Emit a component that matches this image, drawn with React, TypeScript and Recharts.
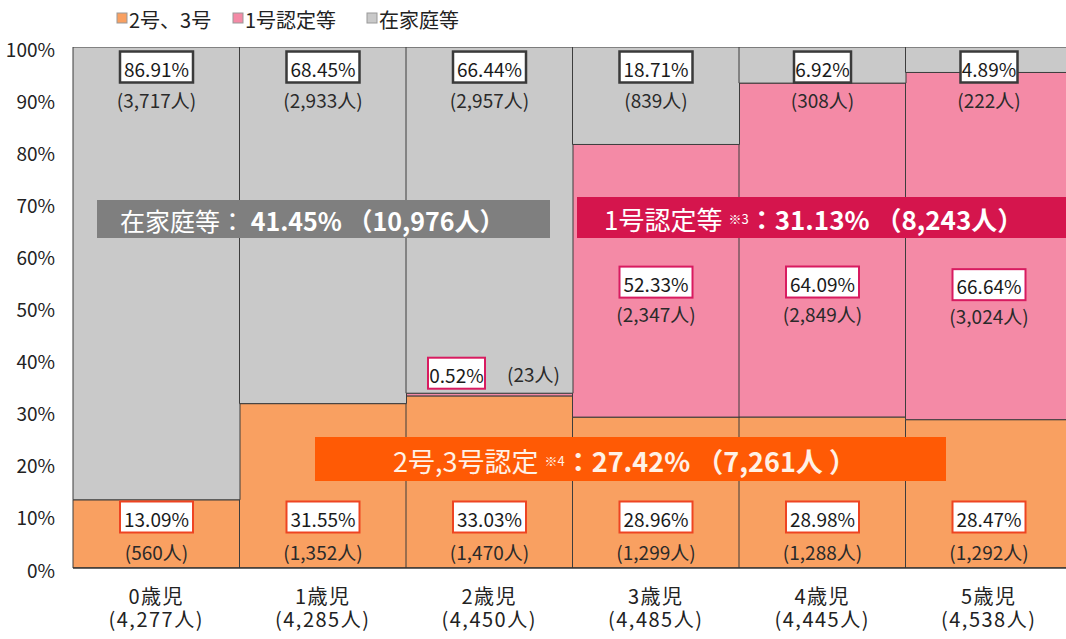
import React from 'react';
import { BarChart, Bar, XAxis, YAxis, LabelList } from 'recharts';

const categories = ['0歳児', '1歳児', '2歳児', '3歳児', '4歳児', '5歳児'];
const totals = [4277, 4285, 4450, 4485, 4445, 4538];
const nurseryPct = [13.09, 31.55, 33.03, 28.96, 28.98, 28.47];
const nurseryCount = [560, 1352, 1470, 1299, 1288, 1292];
const kinderPct = [0, 0, 0.52, 52.33, 64.09, 66.64];
const kinderCount = [0, 0, 23, 2347, 2849, 3024];
const homePct = [86.91, 68.45, 66.44, 18.71, 6.92, 4.89];
const homeCount = [3717, 2933, 2957, 839, 308, 222];
const yTicks = [0, 10, 20, 30, 40, 50, 60, 70, 80, 90, 100];
const seriesNames = ['2号、3号', '1号認定等', '在家庭等'];

const data = categories.map((c, i) => ({
  name: c,
  total: totals[i],
  nursery: nurseryPct[i],
  kinder: kinderPct[i],
  home: homePct[i],
}));

const FONT = "'Noto Sans CJK JP', 'Noto Sans', sans-serif";
const C_ORANGE = '#F9A061';
const C_PINK = '#F48AA6';
const C_GRAY = '#C9C9C9';
const fmt = (n: number) => n.toLocaleString('en-US');
const pctText = (v: number) => v.toFixed(2) + '%';
const boxW = (s: string) => 16 * s.length - 23;

const findIdx = (arr: number[], p: any) => {
  const raw = p.value;
  const v = Array.isArray(raw) ? Number(raw[1]) - Number(raw[0]) : Number(raw);
  return arr.findIndex((a) => Math.abs(a - v) < 1e-6);
};

function ValueBox({ cx, cy, text, stroke, sw }: { cx: number; cy: number; text: string; stroke: string; sw: number }) {
  const w = boxW(text);
  const h = 31;
  return (
    <g>
      <rect x={cx - w / 2} y={cy - h / 2} width={w} height={h} fill="#ffffff" stroke={stroke} strokeWidth={sw} />
      <text x={cx} y={cy + 1} textAnchor="middle" dominantBaseline="central" fontSize={19} fontFamily={FONT} fill="#1a1a1a">
        {text}
      </text>
    </g>
  );
}

function CountText({ cx, cy, n }: { cx: number; cy: number; n: number }) {
  return (
    <text x={cx} y={cy} textAnchor="middle" dominantBaseline="central" fontSize={19} fontFamily={FONT} fill="#2a2a2a">
      {'(' + fmt(n) + '人)'}
    </text>
  );
}

const homeLabel = (p: any) => {
  const i = findIdx(homePct, p);
  if (i < 0) return null;
  const x = Number(p.x), y = Number(p.y), w = Number(p.width);
  const cx = x + w / 2;
  return (
    <g>
      <ValueBox cx={cx} cy={y + 20} text={pctText(homePct[i])} stroke="#3a3a3a" sw={2.5} />
      <CountText cx={cx} cy={y + 52} n={homeCount[i]} />
    </g>
  );
};

const nurseryLabel = (p: any) => {
  const i = findIdx(nurseryPct, p);
  if (i < 0) return null;
  const x = Number(p.x), y = Number(p.y), w = Number(p.width), h = Number(p.height);
  const cx = x + w / 2;
  const bottom = y + h;
  return (
    <g>
      <ValueBox cx={cx} cy={bottom - 51} text={pctText(nurseryPct[i])} stroke="#EE4422" sw={2} />
      <CountText cx={cx} cy={bottom - 17} n={nurseryCount[i]} />
    </g>
  );
};

const kinderLabel = (p: any) => {
  const i = findIdx(kinderPct, p);
  if (i < 0 || !kinderPct[i]) return null;
  const x = Number(p.x), y = Number(p.y), w = Number(p.width), h = Number(p.height);
  const cx = x + w / 2;
  const bottom = y + h;
  if (h < 20) {
    return (
      <g>
        <ValueBox cx={cx - 33} cy={y - 20} text={pctText(kinderPct[i])} stroke="#D81B60" sw={2} />
        <CountText cx={cx + 44} cy={y - 20} n={kinderCount[i]} />
      </g>
    );
  }
  return (
    <g>
      <ValueBox cx={cx} cy={bottom - 135} text={pctText(kinderPct[i])} stroke="#D81B60" sw={2} />
      <CountText cx={cx} cy={bottom - 104} n={kinderCount[i]} />
    </g>
  );
};

const XTick = (p: any) => {
  let i = categories.indexOf(p.payload && p.payload.value);
  if (i < 0) i = p.index;
  return (
    <text x={p.x} y={p.y + 28} textAnchor="middle" fontSize={20} letterSpacing={1.5} fontFamily={FONT} fill="#222">
      <tspan x={p.x}>{categories[i]}</tspan>
      <tspan x={p.x} dy={23}>{'(' + fmt(totals[i]) + '人)'}</tspan>
    </text>
  );
};

const YTick = (p: any) => (
  <text x={p.x} y={p.y + 1} textAnchor="end" dominantBaseline="central" fontSize={19} fontFamily={FONT} fill="#222">
    {p.payload.value + '%'}
  </text>
);

function Legend() {
  const items = [
    { name: seriesNames[0], color: C_ORANGE, x: 117 },
    { name: seriesNames[1], color: C_PINK, x: 233 },
    { name: seriesNames[2], color: C_GRAY, x: 367 },
  ];
  return (
    <g>
      {items.map((it) => (
        <g key={it.name}>
          <rect x={it.x} y={13} width={10} height={10} fill={it.color} stroke="#999" strokeWidth={1} />
          <text x={it.x + 12} y={19} dominantBaseline="central" fontSize={20} fontFamily={FONT} fill="#222">
            {it.name}
          </text>
        </g>
      ))}
    </g>
  );
}

function Banners() {
  return (
    <g fontFamily={FONT}>
      <rect x={97} y={200} width={453} height={38} fill="#7F7F7F" />
      <text x={120} y={220} dominantBaseline="central" fontSize={25} fill="#ffffff">
        <tspan>在家庭等：</tspan>
        <tspan fontWeight="bold">{' 41.45% （10,976人）'}</tspan>
      </text>

      <rect x={577} y={197} width={500} height={41} fill="#D5154D" />
      <text x={604} y={218} dominantBaseline="central" fontSize={26} fill="#ffffff">
        <tspan>1号認定等</tspan>
        <tspan fontSize={13} dx={6}>※3</tspan>
        <tspan fontWeight="bold">{'：31.13% （8,243人）'}</tspan>
      </text>

      <rect x={315} y={437} width={631} height={44} fill="#FF5A05" />
      <text x={393} y={460} dominantBaseline="central" fontSize={27} fill="#FFF1E6">
        <tspan>2号,3号認定</tspan>
        <tspan fontSize={13} dx={6}>※4</tspan>
        <tspan fontWeight="bold">{'：27.42% （7,261人 ）'}</tspan>
      </text>
    </g>
  );
}

export default function App() {
  return (
    <div style={{ position: 'fixed', left: 0, top: 0, width: 1066, height: 639, overflow: 'hidden', background: '#fff' }}>
      <BarChart
        width={1080}
        height={639}
        data={data}
        margin={{ top: 47, right: 8, left: 0, bottom: 0 }}
        barCategoryGap={0}
        barGap={0}
      >
        <XAxis dataKey="name" height={71} axisLine={{ stroke: '#333', strokeWidth: 1.5 }} tickLine={false} tick={<XTick />} interval={0} />
        <YAxis
          width={73}
          domain={[0, 100]}
          ticks={yTicks}
          allowDataOverflow
          axisLine={false}
          tickLine={false}
          tickMargin={12}
          tick={<YTick />}
        />
        <Bar dataKey="nursery" stackId="a" fill={C_ORANGE} stroke="#3d3d3d" strokeWidth={1} isAnimationActive={false}>
          <LabelList dataKey="nursery" content={nurseryLabel} />
        </Bar>
        <Bar dataKey="kinder" stackId="a" fill={C_PINK} stroke="#3d3d3d" strokeWidth={1} isAnimationActive={false}>
          <LabelList dataKey="kinder" content={kinderLabel} />
        </Bar>
        <Bar dataKey="home" stackId="a" fill={C_GRAY} stroke="#3d3d3d" strokeWidth={1} isAnimationActive={false}>
          <LabelList dataKey="home" content={homeLabel} />
        </Bar>
      </BarChart>
      <svg width={1066} height={639} style={{ position: 'absolute', left: 0, top: 0, pointerEvents: 'none' }}>
        <Legend />
        <Banners />
      </svg>
    </div>
  );
}
